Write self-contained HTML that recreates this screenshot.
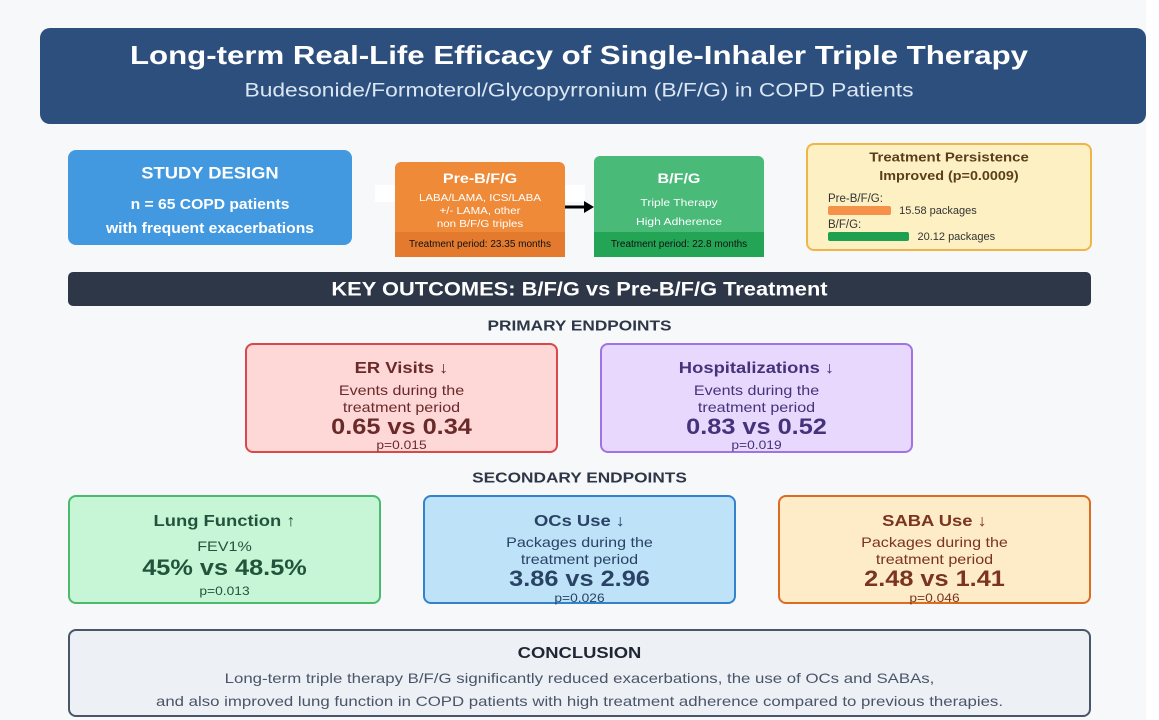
<!DOCTYPE html>
<html><head><meta charset="utf-8"><style>
*{margin:0;padding:0;box-sizing:border-box}
body{width:1159px;height:720px;background:#f7f8f9;font-family:"Liberation Sans",sans-serif;position:relative;overflow:hidden}
.a{position:absolute}
.box{position:absolute;border-radius:8px}
.t{position:absolute;left:0;right:0;text-align:center;transform:translateY(-50%) scaleX(1.15);white-space:nowrap;line-height:1}
.w{transform:translateY(-50%) scaleX(1.2)}
.s{transform:translateY(-50%) scaleX(1.08)}
.b{font-weight:bold}
</style></head><body>
<div class="a" style="left:1146px;top:0;width:13px;height:720px;background:#fff"></div>

<div class="box" style="left:40px;top:28px;width:1106px;height:96px;background:#2c4f7d;border-radius:10px">
  <div class="t w b" style="top:27px;right:28px;font-size:26px;color:#fff">Long-term Real-Life Efficacy of Single-Inhaler Triple Therapy</div>
  <div class="t w" style="top:63px;right:28px;font-size:19px;color:#dbe6f3">Budesonide/Formoterol/Glycopyrronium (B/F/G) in COPD Patients</div>
</div>

<div class="box" style="left:68px;top:150px;width:284px;height:95px;background:#4399e0">
  <div class="t s b" style="top:23px;font-size:17px;color:#fff">STUDY DESIGN</div>
  <div class="t s b" style="top:55px;font-size:14.5px;color:#fff">n = 65 COPD patients</div>
  <div class="t s b" style="top:79px;font-size:14.5px;color:#fff">with frequent exacerbations</div>
</div>

<div class="a" style="left:375px;top:185px;width:210px;height:17px;background:#fff"></div>

<div class="box" style="left:395px;top:162px;width:170px;height:95px;background:#ee8a38;border-radius:6px 6px 0 0;overflow:hidden">
  <div class="t b" style="top:16px;font-size:14px;color:#fff">Pre-B/F/G</div>
  <div class="t" style="top:37px;font-size:10px;color:#fff">LABA/LAMA, ICS/LABA</div>
  <div class="t" style="top:50px;font-size:10px;color:#fff">+/- LAMA, other</div>
  <div class="t" style="top:63px;font-size:10px;color:#fff">non B/F/G triples</div>
  <div class="a" style="left:0;top:70px;width:170px;height:25px;background:#e37a2e;font-size:10px;color:#111;text-align:center;line-height:25px">Treatment period: 23.35 months</div>
</div>

<svg class="a" style="left:562px;top:198px" width="34" height="18"><line x1="3" y1="9" x2="24" y2="9" stroke="#000" stroke-width="3"/><polygon points="22,3 32,9 22,15" fill="#000"/></svg>

<div class="box" style="left:594px;top:156px;width:170px;height:101px;background:#49ba78;border-radius:6px 6px 0 0;overflow:hidden">
  <div class="t b" style="top:22px;font-size:14px;color:#fff">B/F/G</div>
  <div class="t" style="top:47px;font-size:10.5px;color:#fff">Triple Therapy</div>
  <div class="t" style="top:66px;font-size:10.5px;color:#fff">High Adherence</div>
  <div class="a" style="left:0;top:76px;width:170px;height:25px;background:#23a555;font-size:10px;color:#111;text-align:center;line-height:25px">Treatment period: 22.8 months</div>
</div>

<div class="box" style="left:806px;top:143px;width:286px;height:108px;background:#fdf0c2;border:2px solid #f0b549">
  <div class="t b" style="top:12px;font-size:13px;color:#5a3e1b">Treatment Persistence</div>
  <div class="t b" style="top:31px;font-size:12.5px;color:#5a3e1b">Improved (p=0.0009)</div>
  <div id="bars"></div>
</div>

<div class="box" style="left:68px;top:272px;width:1023px;height:34px;background:#2d3748;border-radius:5px">
  <div class="t b" style="top:18px;font-size:19px;color:#fff">KEY OUTCOMES: B/F/G vs Pre-B/F/G Treatment</div>
</div>

<div class="t b" style="top:326px;font-size:15px;color:#2d3748;left:0;width:1159px">PRIMARY ENDPOINTS</div>

<div class="box" style="left:245px;top:343px;width:313px;height:110px;background:#fed7d7;border:2px solid #d9484a;color:#6b2a2a">
  <div class="t b" style="top:24px;font-size:16px">ER Visits ↓</div>
  <div class="t" style="top:45px;font-size:14px">Events during the</div>
  <div class="t" style="top:62px;font-size:14px">treatment period</div>
  <div class="t b" style="top:82px;font-size:22px">0.65 vs 0.34</div>
  <div class="t" style="top:100px;font-size:12px">p=0.015</div>
</div>

<div class="box" style="left:600px;top:343px;width:313px;height:110px;background:#e9d8fd;border:2px solid #9f73e6;color:#44337a">
  <div class="t b" style="top:24px;font-size:16px">Hospitalizations ↓</div>
  <div class="t" style="top:45px;font-size:14px">Events during the</div>
  <div class="t" style="top:62px;font-size:14px">treatment period</div>
  <div class="t b" style="top:82px;font-size:22px">0.83 vs 0.52</div>
  <div class="t" style="top:100px;font-size:12px">p=0.019</div>
</div>

<div class="t b" style="top:478px;font-size:15px;color:#2d3748;left:0;width:1159px">SECONDARY ENDPOINTS</div>

<div class="box" style="left:68px;top:495px;width:313px;height:109px;background:#c6f6d5;border:2px solid #4cb96f;color:#22543d">
  <div class="t b" style="top:25px;font-size:16px">Lung Function ↑</div>
  <div class="t" style="top:49px;font-size:14px">FEV1%</div>
  <div class="t b" style="top:71px;font-size:22px">45% vs 48.5%</div>
  <div class="t" style="top:94px;font-size:12px">p=0.013</div>
</div>

<div class="box" style="left:423px;top:495px;width:313px;height:109px;background:#bee3f8;border:2px solid #3582cc;color:#2a4365">
  <div class="t b" style="top:25px;font-size:16px">OCs Use ↓</div>
  <div class="t" style="top:45px;font-size:14px">Packages during the</div>
  <div class="t" style="top:62px;font-size:14px">treatment period</div>
  <div class="t b" style="top:82px;font-size:22px">3.86 vs 2.96</div>
  <div class="t" style="top:101px;font-size:12px">p=0.026</div>
</div>

<div class="box" style="left:778px;top:495px;width:313px;height:109px;background:#feebc8;border:2px solid #dd6b20;color:#7b341e">
  <div class="t b" style="top:25px;font-size:16px">SABA Use ↓</div>
  <div class="t" style="top:45px;font-size:14px">Packages during the</div>
  <div class="t" style="top:62px;font-size:14px">treatment period</div>
  <div class="t b" style="top:82px;font-size:22px">2.48 vs 1.41</div>
  <div class="t" style="top:101px;font-size:12px">p=0.046</div>
</div>

<div class="box" style="left:68px;top:629px;width:1023px;height:88px;background:#edf1f6;border:2px solid #4a5568">
  <div class="t b" style="top:23px;font-size:16px;color:#1f2633">CONCLUSION</div>
  <div class="t w" style="top:47px;font-size:14px;color:#4a5568">Long-term triple therapy B/F/G significantly reduced exacerbations, the use of OCs and SABAs,</div>
  <div class="t w" style="top:70px;font-size:14px;color:#4a5568">and also improved lung function in COPD patients with high treatment adherence compared to previous therapies.</div>
</div>

<script>
const groups = ["Pre-B/F/G:", "B/F/G:"];
const packages = [15.58, 20.12];
const barColors = ["#f6914a", "#1fa04f"];
const host = document.getElementById('bars');
const scale = v => v * 4.05;
groups.forEach((g, i) => {
  const top = 48 + i * 26;
  const lab = document.createElement('div');
  
  
  lab.className = 'a';
  lab.style.cssText = `left:20px;top:${top}px;font-size:11.5px;color:#333`;
  lab.textContent = g;
  host.appendChild(lab);
  const bar = document.createElement('div');
  
  
  bar.className = 'a';
  const w = scale(packages[i]);
  bar.style.cssText = `left:20px;top:${top + 13}px;width:${w}px;height:9px;background:${barColors[i]};border-radius:2px`;
  host.appendChild(bar);
  const val = document.createElement('div');
  
  
  val.className = 'a';
  val.style.cssText = `left:${20 + w + 8}px;top:${top + 12}px;font-size:11px;color:#333`;
  val.textContent = packages[i].toFixed(2) + ' packages';
  host.appendChild(val);
});
</script>
</body></html>
